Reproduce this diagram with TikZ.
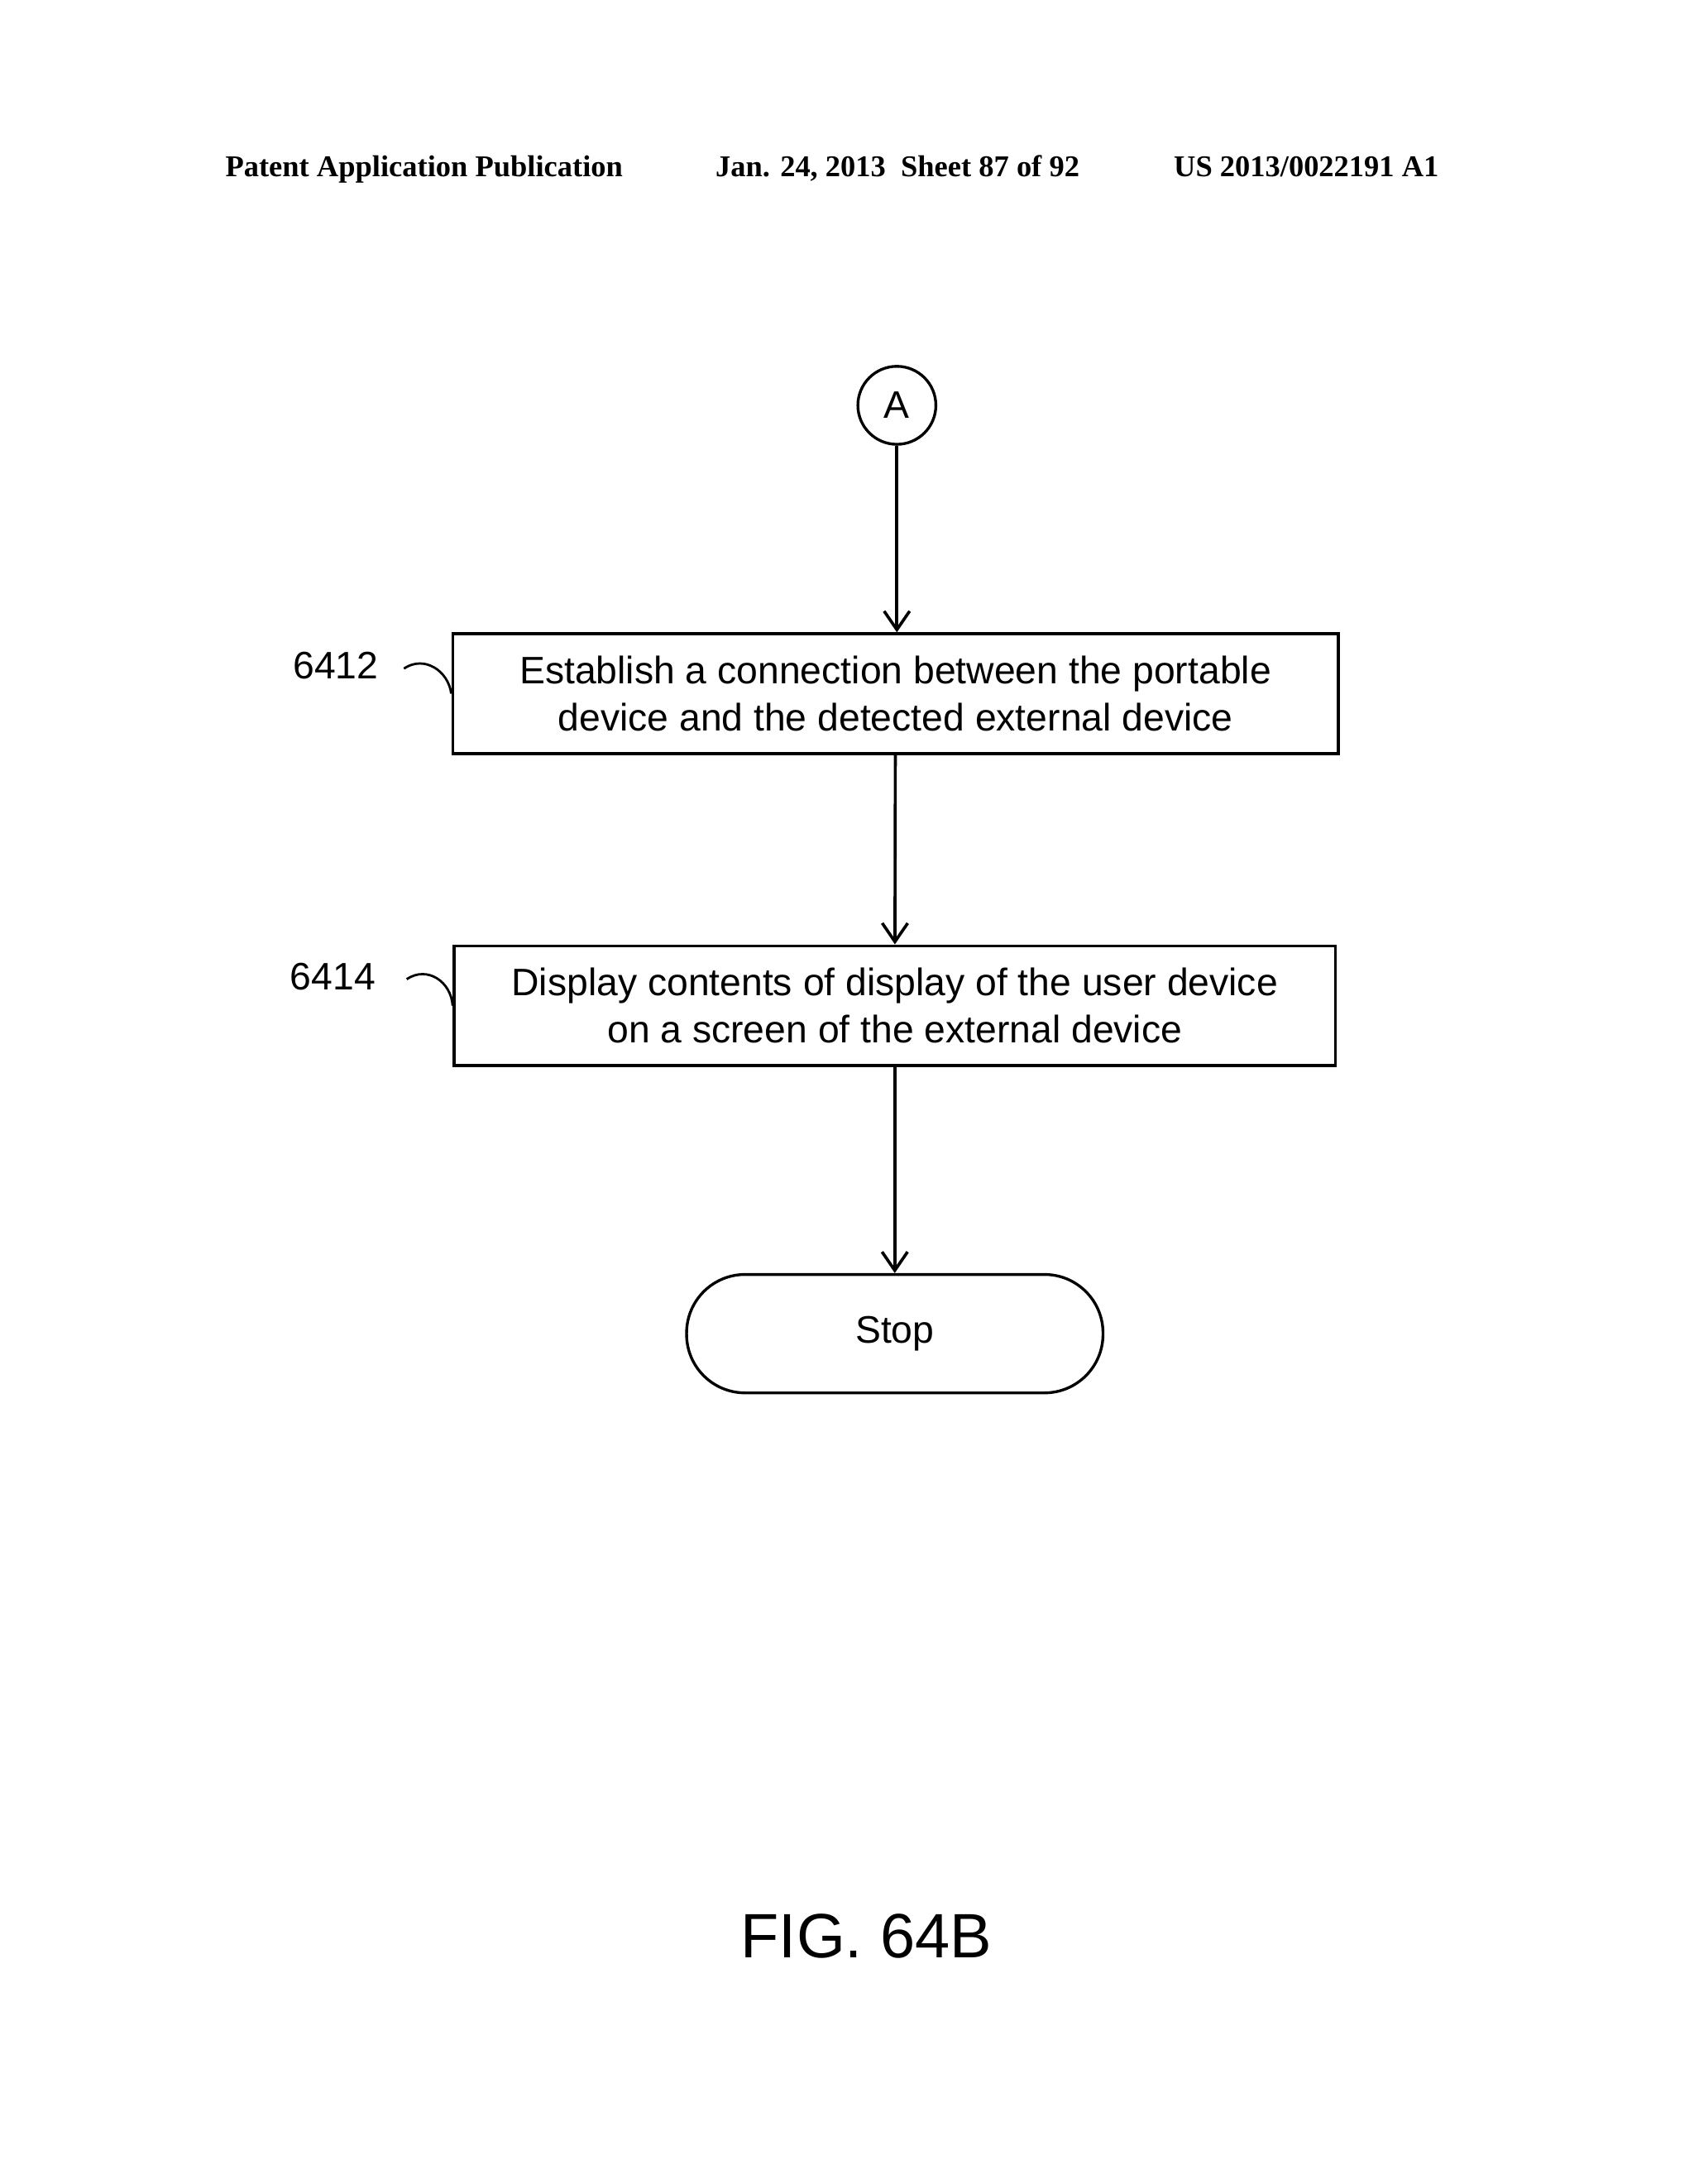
\documentclass[tikz,border=0pt]{standalone}
\usepackage{fontspec}
\setmainfont{Liberation Sans}
\newfontfamily\hdr{Liberation Serif}
\usetikzlibrary{arrows.meta}
\begin{document}
\begin{tikzpicture}[x=0.6pt,y=-0.6pt,
  box/.style={draw,line width=1.2pt,minimum width=636*0.6pt,minimum height=86*0.6pt,align=center,font=\fontsize{16.5}{20.5}\selectfont,inner sep=0pt},
  arr/.style={line width=1.3pt,-{Straight Barb[length=8pt,width=11pt,line width=1.3pt]}},
  hd/.style={font=\hdr\bfseries\fontsize{13}{15}\selectfont,anchor=base west},
  lbl/.style={font=\fontsize{16.5}{20}\selectfont}]
\useasboundingbox (0,0) rectangle (1216,1568);
\node[hd] (h1) at (156,127) {Patent Application Publication};
\node[hd] (h2) at (508,127) {Jan. 24, 2013\ \ Sheet 87 of 92};
\node[hd] (h3) at (837,127) {US 2013/0022191 A1};
\node[draw,circle,line width=1.2pt,minimum size=56*0.6pt,inner sep=0pt,font=\fontsize{16.5}{20}\selectfont] (A) at (644,291) {A};
\node[box] (b1) at (643,498) {Establish a connection between the portable\\device and the detected external device};
\node[box,minimum width=633*0.6pt] (b2) at (642.5,722) {Display contents of display of the user device\\on a screen of the external device};
\node[draw,line width=1.2pt,rounded corners=42*0.6pt,minimum width=299*0.6pt,minimum height=85*0.6pt,font=\fontsize{16.5}{20}\selectfont] (stop) at (642.5,957.5) {Stop};
\draw[arr] (A) -- (b1.north -| A);
\draw[arr] (b1) -- (b2);
\draw[arr] (b2) -- (stop);
\node[lbl] (l1) at (241,478) {6412};
\node[lbl] (l2) at (239,701) {6414};
\coordinate (s1) at (290,480);
\coordinate (s2) at (292,703);
\draw[line width=1pt] (s1) .. controls (305,470) and (322,482) .. (b1.west);
\draw[line width=1pt] (s2) .. controls (307,693) and (324,705) .. (b2.west);
\node[font=\fontsize{27}{30}\selectfont] (fig) at (622,1390) {FIG. 64B};
\end{tikzpicture}
\end{document}
